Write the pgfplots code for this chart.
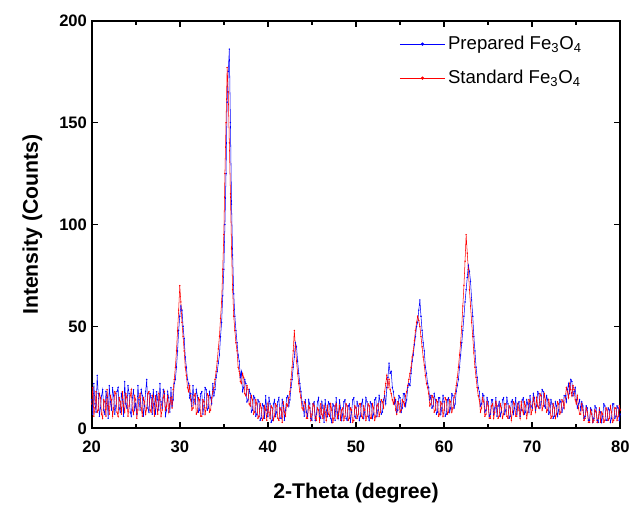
\documentclass[border=0pt]{standalone}
\usepackage{fontspec}
\setmainfont{Liberation Sans}
\usepackage{pgfplots}
\pgfplotsset{compat=1.18}
\definecolor{xblue}{RGB}{0,0,255}
\definecolor{xred}{RGB}{255,0,0}

\begin{document}
\begin{tikzpicture}
  \begin{axis}[
    scale only axis,
    width=398pt, height=307pt,
    xmin=20, xmax=80, ymin=0, ymax=200,
    xtick={20,30,...,80}, ytick={0,50,...,200},
    minor x tick num=1,
    tick align=inside,
    major tick length=5pt, minor tick length=3.5pt,
    every tick/.style={black, line width=1.2pt},
    axis line style={line width=1.5pt},
    /pgf/number format/assume math mode=true,
    ticklabel style={font=\bfseries\fontsize{12.5}{13}\selectfont},
    xticklabel style={yshift=-6pt},
    xlabel={2-Theta (degree)},
    ylabel={Intensity (Counts)},
    label style={font=\bfseries\fontsize{16}{18}\selectfont},
    xlabel style={yshift=-16pt},
    ylabel style={yshift=6pt},
    legend style={at={(0.94,0.975)}, anchor=north east, draw=none, fill=none,
      font=\fontsize{14}{16}\selectfont, row sep=10pt},
    legend cell align={left},
    legend image code/.code={%
      \draw[mark repeat=2, mark phase=2, #1, mark size=1pt]
        plot coordinates {(0cm,0cm) (0.6cm,0cm) (1.2cm,0cm)};},
    every axis plot/.append style={line width=0.4pt, mark=*, mark size=0.3pt},
  ]
    % prepared sample
    \addplot[xblue] coordinates {
      (20,14) (20.125,7) (20.25,22) (20.375,12) (20.5,8) (20.625,26) (20.75,17) (20.875,6)
      (21,10) (21.125,16) (21.25,19) (21.375,9) (21.5,7) (21.625,18) (21.75,15) (21.875,5)
      (22,21) (22.125,13) (22.25,9) (22.375,20) (22.5,16) (22.625,7) (22.75,11) (22.875,18)
      (23,20) (23.125,10) (23.25,8) (23.375,17) (23.5,14) (23.625,6) (23.75,23) (23.875,12)
      (24,10) (24.125,21) (24.25,17) (24.375,8) (24.5,6) (24.625,15) (24.75,19) (24.875,9)
      (25,12) (25.125,7) (25.25,21) (25.375,14) (25.5,9) (25.625,19) (25.75,16) (25.875,6)
      (26,11) (26.125,18) (26.25,24) (26.375,10) (26.5,8) (26.625,17) (26.75,15) (26.875,7)
      (27,19) (27.125,12) (27.25,7) (27.375,18) (27.5,14) (27.625,9) (27.75,22) (27.875,13)
      (28,10) (28.125,19) (28.25,17) (28.375,6) (28.5,9) (28.625,18) (28.75,15) (28.875,8)
      (29,20) (29.125,11) (29.25,14) (29.375,22) (29.5,24) (29.625,30) (29.75,38) (29.875,48)
      (30,55) (30.125,60) (30.25,58) (30.375,50) (30.5,44) (30.625,35) (30.75,30) (30.875,24)
      (31,22) (31.125,15) (31.25,17) (31.375,11) (31.5,21) (31.625,14) (31.75,12) (31.875,19)
      (32,16) (32.125,8) (32.25,9) (32.375,17) (32.5,18) (32.625,7) (32.75,11) (32.875,20)
      (33,19) (33.125,9) (33.25,10) (33.375,18) (33.5,15) (33.625,12) (33.75,22) (33.875,16)
      (34,19) (34.125,25) (34.25,28) (34.375,32) (34.5,36) (34.625,45) (34.75,52) (34.875,65)
      (35,78) (35.125,100) (35.25,125) (35.375,160) (35.5,175) (35.625,186) (35.75,150) (35.875,110)
      (36,85) (36.125,66) (36.25,55) (36.375,48) (36.5,42) (36.625,36) (36.75,33) (36.875,25)
      (37,28) (37.125,18) (37.25,20) (37.375,24) (37.5,22) (37.625,13) (37.75,14) (37.875,19)
      (38,17) (38.125,8) (38.25,9) (38.375,16) (38.5,15) (38.625,6) (38.75,7) (38.875,14)
      (39,13) (39.125,4) (39.25,5) (39.375,12) (39.5,11) (39.625,5) (39.75,16) (39.875,9)
      (40,6) (40.125,15) (40.25,12) (40.375,3) (40.5,4) (40.625,12) (40.75,14) (40.875,6)
      (41,8) (41.125,13) (41.25,15) (41.375,5) (41.5,5) (41.625,14) (41.75,11) (41.875,4)
      (42,9) (42.125,15) (42.25,16) (42.375,11) (42.5,14) (42.625,20) (42.75,24) (42.875,30)
      (43,35) (43.125,42) (43.25,40) (43.375,33) (43.5,27) (43.625,22) (43.75,18) (43.875,13)
      (44,11) (44.125,6) (44.25,14) (44.375,8) (44.5,6) (44.625,14) (44.75,12) (44.875,5)
      (45,4) (45.125,12) (45.25,13) (45.375,4) (45.5,7) (45.625,13) (45.75,15) (45.875,6)
      (46,5) (46.125,13) (46.25,10) (46.375,3) (46.5,14) (46.625,9) (46.75,6) (46.875,13)
      (47,12) (47.125,5) (47.25,3) (47.375,12) (47.5,11) (47.625,4) (47.75,15) (47.875,8)
      (48,5) (48.125,14) (48.25,10) (48.375,4) (48.5,7) (48.625,13) (48.75,14) (48.875,5)
      (49,4) (49.125,11) (49.25,12) (49.375,3) (49.5,8) (49.625,14) (49.75,15) (49.875,6)
      (50,5) (50.125,13) (50.25,11) (50.375,4) (50.5,6) (50.625,12) (50.75,14) (50.875,5)
      (51,8) (51.125,15) (51.25,13) (51.375,6) (51.5,4) (51.625,13) (51.75,12) (51.875,5)
      (52,7) (52.125,14) (52.25,15) (52.375,6) (52.5,9) (52.625,16) (52.75,13) (52.875,7)
      (53,8) (53.125,14) (53.25,16) (53.375,12) (53.5,20) (53.625,25) (53.75,32) (53.875,27)
      (54,28) (54.125,20) (54.25,18) (54.375,12) (54.5,14) (54.625,8) (54.75,9) (54.875,16)
      (55,15) (55.125,8) (55.25,10) (55.375,17) (55.5,17) (55.625,11) (55.75,14) (55.875,20)
      (56,22) (56.125,21) (56.25,27) (56.375,33) (56.5,36) (56.625,41) (56.75,45) (56.875,50)
      (57,52) (57.125,58) (57.25,63) (57.375,55) (57.5,48) (57.625,42) (57.75,38) (57.875,30)
      (58,27) (58.125,22) (58.25,20) (58.375,14) (58.5,16) (58.625,10) (58.75,11) (58.875,17)
      (59,14) (59.125,7) (59.25,8) (59.375,15) (59.5,15) (59.625,7) (59.75,10) (59.875,16)
      (60,13) (60.125,6) (60.25,7) (60.375,14) (60.5,15) (60.625,8) (60.75,10) (60.875,17)
      (61,16) (61.125,10) (61.25,12) (61.375,18) (61.5,21) (61.625,24) (61.75,30) (61.875,36)
      (62,42) (62.125,48) (62.25,55) (62.375,62) (62.5,68) (62.625,74) (62.75,80) (62.875,77)
      (63,72) (63.125,63) (63.25,55) (63.375,45) (63.5,38) (63.625,30) (63.75,25) (63.875,20)
      (64,18) (64.125,11) (64.25,12) (64.375,17) (64.5,16) (64.625,8) (64.75,9) (64.875,15)
      (65,13) (65.125,6) (65.25,7) (65.375,14) (65.5,14) (65.625,7) (65.75,10) (65.875,15)
      (66,6) (66.125,11) (66.25,13) (66.375,6) (66.5,8) (66.625,14) (66.75,15) (66.875,7)
      (67,9) (67.125,15) (67.25,12) (67.375,5) (67.5,6) (67.625,13) (67.75,14) (67.875,7)
      (68,10) (68.125,15) (68.25,7) (68.375,12) (68.5,13) (68.625,6) (68.75,9) (68.875,14)
      (69,15) (69.125,7) (69.25,8) (69.375,14) (69.5,12) (69.625,8) (69.75,16) (69.875,11)
      (70,10) (70.125,17) (70.25,15) (70.375,9) (70.5,11) (70.625,18) (70.75,17) (70.875,10)
      (71,13) (71.125,19) (71.25,18) (71.375,11) (71.5,10) (71.625,16) (71.75,14) (71.875,7)
      (72,8) (72.125,14) (72.25,12) (72.375,5) (72.5,6) (72.625,13) (72.75,11) (72.875,6)
      (73,9) (73.125,14) (73.25,13) (73.375,8) (73.5,10) (73.625,16) (73.75,16) (73.875,13)
      (74,19) (74.125,22) (74.25,17) (74.375,24) (74.5,23) (74.625,16) (74.75,18) (74.875,20)
      (75,14) (75.125,10) (75.25,12) (75.375,14) (75.5,9) (75.625,13) (75.75,11) (75.875,5)
      (76,6) (76.125,11) (76.25,10) (76.375,4) (76.5,4) (76.625,10) (76.75,9) (76.875,3)
      (77,5) (77.125,11) (77.25,10) (77.375,4) (77.5,3) (77.625,9) (77.75,8) (77.875,3)
      (78,6) (78.125,12) (78.25,11) (78.375,4) (78.5,4) (78.625,10) (78.75,9) (78.875,3)
      (79,5) (79.125,12) (79.25,12) (79.375,5) (79.5,6) (79.625,11) (79.75,10) (79.875,4)
      (80,7)
    };
    % standard pattern
    \addplot[xred] coordinates {
      (20,12) (20.125,20) (20.25,6) (20.375,10) (20.5,18) (20.625,8) (20.75,9) (20.875,17)
      (21,15) (21.125,7) (21.25,5) (21.375,14) (21.5,13) (21.625,6) (21.75,19) (21.875,11)
      (22,7) (22.125,16) (22.25,14) (22.375,6) (22.5,10) (22.625,18) (22.75,17) (22.875,8)
      (23,6) (23.125,15) (23.25,13) (23.375,7) (23.5,18) (23.625,11) (23.75,8) (23.875,17)
      (24,15) (24.125,6) (24.25,11) (24.375,16) (24.5,19) (24.625,9) (24.75,7) (24.875,16)
      (25,14) (25.125,5) (25.25,9) (25.375,15) (25.5,17) (25.625,10) (25.75,6) (25.875,15)
      (26,13) (26.125,7) (26.25,10) (26.375,17) (26.5,18) (26.625,9) (26.75,8) (26.875,16)
      (27,12) (27.125,6) (27.25,16) (27.375,11) (27.5,7) (27.625,17) (27.75,14) (27.875,6)
      (28,9) (28.125,15) (28.25,18) (28.375,9) (28.5,11) (28.625,16) (28.75,8) (28.875,12)
      (29,15) (29.125,10) (29.25,19) (29.375,24) (29.5,30) (29.625,38) (29.75,48) (29.875,58)
      (30,70) (30.125,62) (30.25,52) (30.375,45) (30.5,38) (30.625,30) (30.75,26) (30.875,20)
      (31,18) (31.125,21) (31.25,14) (31.375,9) (31.5,10) (31.625,16) (31.75,17) (31.875,7)
      (32,8) (32.125,15) (32.25,14) (32.375,6) (32.5,6) (32.625,14) (32.75,13) (32.875,7)
      (33,10) (33.125,17) (33.25,16) (33.375,8) (33.5,9) (33.625,15) (33.75,18) (33.875,20)
      (34,24) (34.125,28) (34.25,33) (34.375,39) (34.5,45) (34.625,54) (34.75,62) (34.875,78)
      (35,95) (35.125,125) (35.25,150) (35.375,177) (35.5,165) (35.625,140) (35.75,115) (35.875,88)
      (36,68) (36.125,55) (36.25,48) (36.375,42) (36.5,38) (36.625,30) (36.75,28) (36.875,23)
      (37,22) (37.125,27) (37.25,25) (37.375,17) (37.5,16) (37.625,21) (37.75,19) (37.875,12)
      (38,11) (38.125,16) (38.25,14) (38.375,7) (38.5,8) (38.625,14) (38.75,12) (38.875,5)
      (39,6) (39.125,12) (39.25,10) (39.375,4) (39.5,5) (39.625,11) (39.75,9) (39.875,4)
      (40,12) (40.125,8) (40.25,5) (40.375,11) (40.5,10) (40.625,4) (40.75,6) (40.875,12)
      (41,11) (41.125,5) (41.25,4) (41.375,10) (41.5,9) (41.625,3) (41.75,13) (41.875,8)
      (42,6) (42.125,12) (42.25,11) (42.375,15) (42.5,18) (42.625,24) (42.75,30) (42.875,38)
      (43,48) (43.125,40) (43.25,33) (43.375,27) (43.5,22) (43.625,18) (43.75,15) (43.875,10)
      (44,9) (44.125,13) (44.25,12) (44.375,5) (44.5,5) (44.625,11) (44.75,10) (44.875,4)
      (45,7) (45.125,12) (45.25,11) (45.375,5) (45.5,4) (45.625,10) (45.75,9) (45.875,3)
      (46,12) (46.125,7) (46.25,5) (46.375,11) (46.5,8) (46.625,4) (46.75,11) (46.875,7)
      (47,6) (47.125,12) (47.25,9) (47.375,3) (47.5,5) (47.625,11) (47.75,12) (47.875,5)
      (48,7) (48.125,11) (48.25,4) (48.375,9) (48.5,10) (48.625,4) (48.75,6) (48.875,12)
      (49,11) (49.125,4) (49.25,5) (49.375,10) (49.5,9) (49.625,3) (49.75,4) (49.875,11)
      (50,10) (50.125,5) (50.25,7) (50.375,12) (50.5,12) (50.625,6) (50.75,5) (50.875,11)
      (51,9) (51.125,4) (51.25,6) (51.375,12) (51.5,11) (51.625,5) (51.75,5) (51.875,12)
      (52,10) (52.125,4) (52.25,6) (52.375,11) (52.5,12) (52.625,6) (52.75,8) (52.875,14)
      (53,13) (53.125,10) (53.25,18) (53.375,22) (53.5,26) (53.625,20) (53.75,24) (53.875,19)
      (54,17) (54.125,14) (54.25,12) (54.375,15) (54.5,9) (54.625,7) (54.75,13) (54.875,12)
      (55,8) (55.125,9) (55.25,14) (55.375,13) (55.5,11) (55.625,16) (55.75,18) (55.875,21)
      (56,24) (56.125,27) (56.25,30) (56.375,35) (56.5,38) (56.625,43) (56.75,48) (56.875,52)
      (57,55) (57.125,53) (57.25,50) (57.375,45) (57.5,40) (57.625,35) (57.75,31) (57.875,26)
      (58,22) (58.125,20) (58.25,17) (58.375,11) (58.5,12) (58.625,16) (58.75,15) (58.875,8)
      (59,9) (59.125,14) (59.25,13) (59.375,6) (59.5,7) (59.625,13) (59.75,12) (59.875,6)
      (60,9) (60.125,15) (60.25,14) (60.375,7) (60.5,8) (60.625,14) (60.75,13) (60.875,8)
      (61,10) (61.125,15) (61.25,17) (61.375,21) (61.5,25) (61.625,30) (61.75,36) (61.875,42)
      (62,50) (62.125,60) (62.25,70) (62.375,82) (62.5,95) (62.625,86) (62.75,78) (62.875,68)
      (63,60) (63.125,52) (63.25,45) (63.375,37) (63.5,30) (63.625,25) (63.75,20) (63.875,16)
      (64,14) (64.125,8) (64.25,10) (64.375,15) (64.5,13) (64.625,6) (64.75,7) (64.875,13)
      (65,11) (65.125,5) (65.25,5) (65.375,11) (65.5,12) (65.625,5) (65.75,8) (65.875,13)
      (66,11) (66.125,5) (66.25,6) (66.375,12) (66.5,10) (66.625,5) (66.75,7) (66.875,12)
      (67,12) (67.125,6) (67.25,5) (67.375,11) (67.5,10) (67.625,4) (67.75,8) (67.875,13)
      (68,12) (68.125,6) (68.25,6) (68.375,12) (68.5,9) (68.625,5) (68.75,13) (68.875,9)
      (69,7) (69.125,13) (69.25,11) (69.375,5) (69.5,8) (69.625,14) (69.75,13) (69.875,7)
      (70,9) (70.125,15) (70.25,12) (70.375,8) (70.5,15) (70.625,11) (70.75,10) (70.875,17)
      (71,16) (71.125,9) (71.25,11) (71.375,17) (71.5,14) (71.625,8) (71.75,9) (71.875,14)
      (72,11) (72.125,5) (72.25,6) (72.375,12) (72.5,10) (72.625,5) (72.75,7) (72.875,13)
      (73,12) (73.125,7) (73.25,8) (73.375,14) (73.5,13) (73.625,10) (73.75,15) (73.875,20)
      (74,18) (74.125,15) (74.25,22) (74.375,19) (74.5,16) (74.625,21) (74.75,19) (74.875,14)
      (75,12) (75.125,16) (75.25,10) (75.375,7) (75.5,7) (75.625,12) (75.75,9) (75.875,4)
      (76,5) (76.125,10) (76.25,8) (76.375,3) (76.5,3) (76.625,9) (76.75,7) (76.875,3)
      (77,4) (77.125,9) (77.25,8) (77.375,3) (77.5,5) (77.625,10) (77.75,3) (77.875,8)
      (78,7) (78.125,3) (78.25,4) (78.375,10) (78.5,9) (78.625,4) (78.75,5) (78.875,11)
      (79,8) (79.125,3) (79.25,4) (79.375,10) (79.5,10) (79.625,4) (79.75,6) (79.875,11)
      (80,9)
    };
    \legend{Prepared Fe\textsubscript{3}O\textsubscript{4}, Standard Fe\textsubscript{3}O\textsubscript{4}}
  \end{axis}
  \path ([xshift=-69pt,yshift=-60pt]current axis.south west)
    rectangle ([xshift=8pt,yshift=15.5pt]current axis.north east);
\end{tikzpicture}
\end{document}
